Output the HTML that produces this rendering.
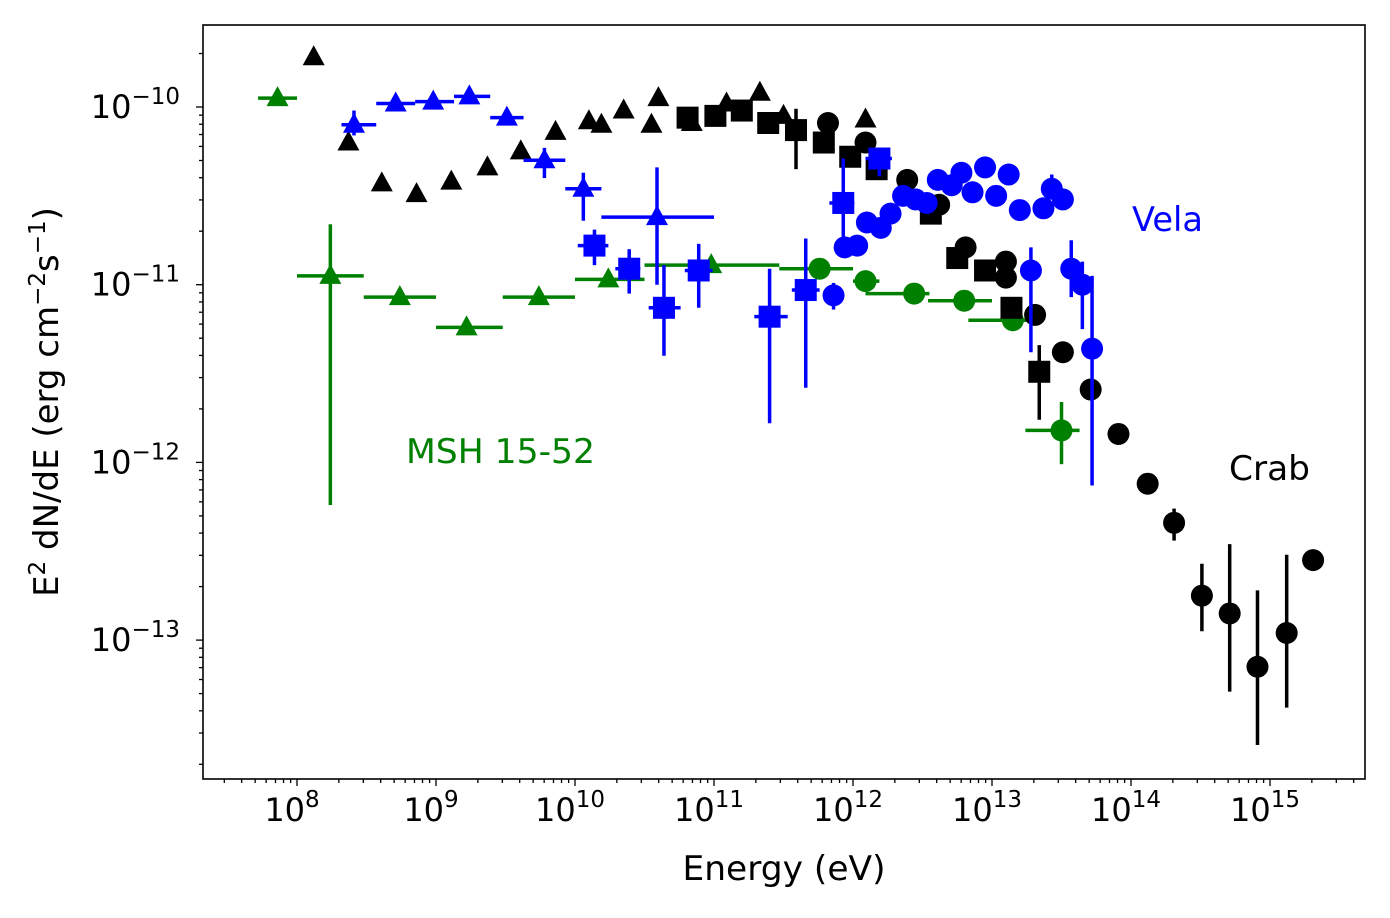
<!DOCTYPE html>
<html><head><meta charset="utf-8"><style>
html,body{margin:0;padding:0;background:#fff;}
svg text{font-family:"DejaVu Sans","Liberation Sans",sans-serif;}
</style></head><body>
<svg id="chart" width="1390" height="913" xmlns="http://www.w3.org/2000/svg">
<rect width="1390" height="913" fill="#fff"/>
<g id="marks"></g>
<g id="axes"></g>
<text x="1132" y="231" font-size="34" fill="#0000ff" textLength="71" lengthAdjust="spacingAndGlyphs">Vela</text>
<text x="406" y="463" font-size="34" fill="#008000" textLength="189" lengthAdjust="spacingAndGlyphs">MSH 15-52</text>
<text x="1229" y="480" font-size="34" fill="#000" textLength="81" lengthAdjust="spacingAndGlyphs">Crab</text>
<text x="784" y="880" font-size="34" text-anchor="middle" textLength="203" lengthAdjust="spacingAndGlyphs">Energy (eV)</text>
<text transform="translate(58,402) rotate(-90)" font-size="34" text-anchor="middle">E<tspan font-size="23" dy="-13">2</tspan><tspan dy="13"> dN/dE (erg cm</tspan><tspan font-size="23" dy="-13">−2</tspan><tspan dy="13">s</tspan><tspan font-size="23" dy="-13">−1</tspan><tspan dy="13">)</tspan></text>
</svg>
<script>
// All values are log10(E/eV) and log10(flux)
const crabTriE=[8.12,8.37,8.61,8.86,9.11,9.37,9.61,9.86,10.10,10.19,10.35,10.55,10.60,10.84,11.09,11.33,11.50,12.09];
const crabTriF=[-9.72,-10.20,-10.43,-10.49,-10.42,-10.34,-10.25,-10.14,-10.08,-10.10,-10.02,-10.10,-9.95,-10.09,-9.98,-9.92,-10.05,-10.07];
const crabSqE=[10.81,11.01,11.20,11.39,11.59,11.79,11.98,12.17,12.56,12.75,12.95,13.14,13.34];
const crabSqF=[-10.06,-10.05,-10.02,-10.09,-10.13,-10.20,-10.28,-10.35,-10.60,-10.85,-10.92,-11.13,-11.49];
const crabSqLo=[null,null,null,null,-10.35,null,null,null,null,null,null,null,-11.76];
const crabSqHi=[null,null,null,null,-10.01,null,null,null,null,null,null,null,-11.34];
const crabCirE=[11.82,12.09,12.39,12.62,12.81,13.10,13.10,13.31,13.51,13.71,13.91,14.12,14.31,14.51,14.71,14.91,15.12,15.31];
const crabCirF=[-10.09,-10.20,-10.41,-10.55,-10.79,-10.87,-10.96,-11.17,-11.38,-11.59,-11.84,-12.12,-12.34,-12.75,-12.85,-13.15,-12.96,-12.55];
const crabCirLo=[null,null,null,null,null,null,null,null,null,null,null,null,-12.44,-12.95,-13.29,-13.59,-13.38,null];
const crabCirHi=[null,null,null,null,null,null,null,null,null,null,null,null,-12.26,-12.57,-12.46,-12.72,-12.52,null];

const velaTriE=[8.41,8.71,8.98,9.24,9.51,9.78,10.06,10.59];
const velaTriF=[-10.10,-9.98,-9.97,-9.94,-10.06,-10.30,-10.46,-10.62];
const velaTriXLo=[8.32,8.57,8.85,9.13,9.39,9.63,9.93,10.19];
const velaTriXHi=[8.57,8.85,9.13,9.39,9.63,9.93,10.19,11.0];
const velaTriLo=[-10.16,null,null,null,null,-10.40,-10.64,-11.00];
const velaTriHi=[-10.02,null,null,null,null,-10.23,-10.37,-10.34];

const velaSqE=[10.14,10.39,10.64,10.89,11.40,11.66,11.93,12.19];
const velaSqF=[-10.78,-10.91,-11.13,-10.92,-11.18,-11.03,-10.54,-10.29];
const velaSqXLo=[10.02,10.29,10.53,10.79,11.29,11.56,11.83,12.09];
const velaSqXHi=[10.24,10.47,10.76,10.99,11.53,11.76,12.01,12.28];
const velaSqLo=[-10.89,-11.05,-11.40,-11.13,-11.78,-11.58,-10.75,-10.39];
const velaSqHi=[-10.69,-10.80,-10.89,-10.77,-10.91,-10.74,-10.29,-10.23];

const velaCirE=[11.86,11.94,12.03,12.10,12.20,12.27,12.36,12.45,12.53,12.61,12.71,12.78,12.86,12.95,13.03,13.12,13.20,13.28,13.37,13.43,13.51,13.57,13.65,13.72];
const velaCirF=[-11.06,-10.79,-10.78,-10.65,-10.68,-10.60,-10.50,-10.52,-10.54,-10.41,-10.44,-10.37,-10.48,-10.34,-10.50,-10.38,-10.58,-10.92,-10.57,-10.46,-10.52,-10.91,-11.00,-11.36];
const velaCirLo=[-11.14,null,null,null,null,null,null,null,null,null,null,null,null,null,null,null,null,-11.38,null,-10.52,null,-11.07,-11.25,-12.13];
const velaCirHi=[-10.99,null,null,null,null,null,null,null,null,null,null,null,null,null,null,null,null,-10.79,null,-10.38,null,-10.75,-10.87,-10.95];

const mshTriE=[7.86,8.24,8.74,9.22,9.74,10.24,10.98];
const mshTriF=[-9.95,-10.95,-11.07,-11.24,-11.07,-10.97,-10.89];
const mshTriXLo=[7.72,8.0,8.48,9.0,9.48,10.0,10.50];
const mshTriXHi=[8.0,8.48,9.0,9.48,10.0,10.50,11.47];
const mshTriLo=[null,-12.24,null,null,null,null,null];
const mshTriHi=[null,-10.66,null,null,null,null,null];

const mshCirE=[11.76,12.09,12.44,12.80,13.15,13.50];
const mshCirF=[-10.91,-10.98,-11.05,-11.09,-11.20,-11.82];
const mshCirXLo=[11.47,12.0,12.09,12.54,12.83,13.24];
const mshCirXHi=[12.0,12.19,12.55,13.0,13.35,13.63];
const mshCirLo=[null,null,null,null,null,-12.01];
const mshCirHi=[null,null,null,null,null,-11.66];

const xTicks=[8,9,10,11,12,13,14,15];
const yTicks=[-10,-11,-12,-13];

const L=203,R=1365,T=25,B=779;
const xs=v=>297+(v-8)*139;
const ys=v=>107+(-10-v)*177.7;
const NS="http://www.w3.org/2000/svg";
const marks=document.getElementById('marks'), axes=document.getElementById('axes');
function mk(tag,attrs,parent){const e=document.createElementNS(NS,tag);for(const k in attrs)e.setAttribute(k,attrs[k]);parent.appendChild(e);return e;}

function series(name,color,shape,E,F,lo,hi,xlo,xhi){
  const g=mk('g',{},marks);
  
  
  for(let i=0;i<E.length;i++){
    const x=xs(E[i]),y=ys(F[i]);
    if(xlo&&xlo[i]!=null){
      const l=mk('line',{x1:xs(xlo[i]),x2:xs(xhi[i]),y1:y,y2:y,stroke:color,'stroke-width':3.5},g);
      
      
    }
    if(lo&&lo[i]!=null){
      const l=mk('line',{x1:x,x2:x,y1:ys(lo[i]),y2:ys(hi[i]),stroke:color,'stroke-width':3.5},g);
      
      
    }
    let m;
    if(shape==='tri') m=mk('polygon',{points:`${x},${y-12} ${x-11},${y+8} ${x+11},${y+8}`,fill:color},g);
    else if(shape==='sq') m=mk('rect',{x:x-11,y:y-11,width:22,height:22,fill:color},g);
    else m=mk('circle',{cx:x,cy:y,r:11,fill:color},g);
    
    
  }
}
series('msh-fermi','#008000','tri',mshTriE,mshTriF,mshTriLo,mshTriHi,mshTriXLo,mshTriXHi);
series('msh-hess','#008000','cir',mshCirE,mshCirF,mshCirLo,mshCirHi,mshCirXLo,mshCirXHi);
series('crab-fermi','#000','tri',crabTriE,crabTriF,null,null,null,null);
series('crab-iact','#000','sq',crabSqE,crabSqF,crabSqLo,crabSqHi,null,null);
series('crab-lhaaso','#000','cir',crabCirE,crabCirF,crabCirLo,crabCirHi,null,null);
series('vela-fermi','#0000ff','tri',velaTriE,velaTriF,velaTriLo,velaTriHi,velaTriXLo,velaTriXHi);
series('vela-hess','#0000ff','sq',velaSqE,velaSqF,velaSqLo,velaSqHi,velaSqXLo,velaSqXHi);
series('vela-lhaaso','#0000ff','cir',velaCirE,velaCirF,velaCirLo,velaCirHi,null,null);

const frame=mk('rect',{x:L,y:T,width:R-L,height:B-T,fill:'none',stroke:'#000','stroke-width':1.6},axes);


for(let d=7;d<=15;d++){
  for(let k=1;k<10;k++){
    const v=d+Math.log10(k),x=xs(v);
    if(x<L||x>R)continue;
    mk('line',{x1:x,x2:x,y1:B,y2:B+(k===1?7:4),stroke:'#000','stroke-width':1.3},axes);
  }
}
xTicks.forEach(t=>{
  const tx=mk('text',{x:xs(t)-5,y:B+42,'font-size':32,'text-anchor':'middle'},axes);
  
  
  tx.innerHTML=`10<tspan font-size="23" dy="-14">${t}</tspan>`;
});
for(let d=-14;d<=-10;d++){
  for(let k=1;k<10;k++){
    const v=d+Math.log10(k),y=ys(v);
    if(y<T||y>B)continue;
    mk('line',{x1:L,x2:L-(k===1?7:4),y1:y,y2:y,stroke:'#000','stroke-width':1.3},axes);
  }
}
yTicks.forEach(t=>{
  const tx=mk('text',{x:180,y:ys(t)+11,'font-size':32,'text-anchor':'end'},axes);
  
  
  tx.innerHTML=`10<tspan font-size="23" dy="-14">−${-t}</tspan>`;
});
</script>
</body></html>
